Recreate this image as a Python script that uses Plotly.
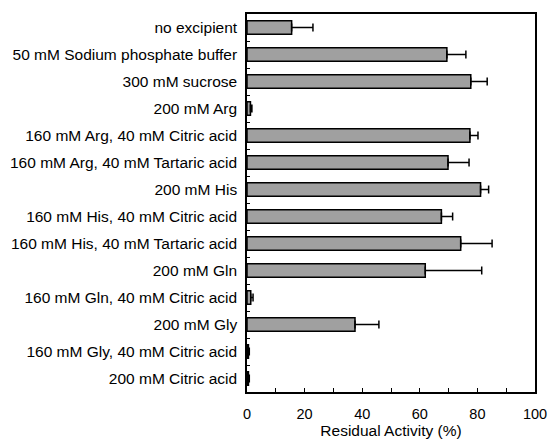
import plotly.graph_objects as go

categories = [
    "no excipient",
    "50 mM Sodium phosphate buffer",
    "300 mM sucrose",
    "200 mM Arg",
    "160 mM Arg, 40 mM Citric acid",
    "160 mM Arg, 40 mM Tartaric acid",
    "200 mM His",
    "160 mM His, 40 mM Citric acid",
    "160 mM His, 40 mM Tartaric acid",
    "200 mM Gln",
    "160 mM Gln, 40 mM Citric acid",
    "200 mM Gly",
    "160 mM Gly, 40 mM Citric acid",
    "200 mM Citric acid",
]
activity = [15.5, 69.4, 77.7, 1.2, 77.4, 69.8, 81.1, 67.5, 74.2, 61.9, 1.3, 37.5, 0.5, 0.5]
errors = [7.4, 6.6, 5.7, 0.5, 2.8, 7.3, 2.8, 3.9, 10.9, 19.6, 0.8, 8.3, 0.3, 0.3]

fig = go.Figure()
fig.add_trace(go.Bar(
    y=categories, x=activity, orientation="h",
    width=0.5,
    marker=dict(color="#a0a0a0", line=dict(color="black", width=1.5)),
    error_x=dict(type="data", array=errors, symmetric=False, arrayminus=[0]*len(errors),
                 color="black", thickness=1.5, width=4),
))

font = "Liberation Sans, Arial, sans-serif"
fig.update_layout(
    width=548, height=446,
    margin=dict(l=247, r=13, t=14, b=54),
    plot_bgcolor="white", paper_bgcolor="white",
    showlegend=False,
    font=dict(family=font, size=15, color="black"),
    xaxis=dict(
        range=[0, 100], tickvals=[0, 20, 40, 60, 80, 100],
        ticks="inside", ticklen=4, tickwidth=1, tickcolor="black",
        minor=dict(dtick=10, ticks="inside", ticklen=4, tickwidth=1, tickcolor="black"),
        showline=True, linecolor="black", linewidth=1.5, mirror=True,
        showgrid=False, zeroline=False, automargin=False,
        tickfont=dict(size=14.5), ticklabelstandoff=8,
        title=dict(text="Residual Activity (%)", font=dict(size=15.5), standoff=1),
    ),
    yaxis=dict(
        autorange="reversed", type="category", automargin=False,
        tickson="boundaries", ticks="inside", ticklen=3, tickcolor="black",
        showline=True, linecolor="black", linewidth=1.5, mirror=True,
        showgrid=False, tickfont=dict(size=15.5), ticklabelstandoff=5,
    ),
)

fig.write_html("out.html")
